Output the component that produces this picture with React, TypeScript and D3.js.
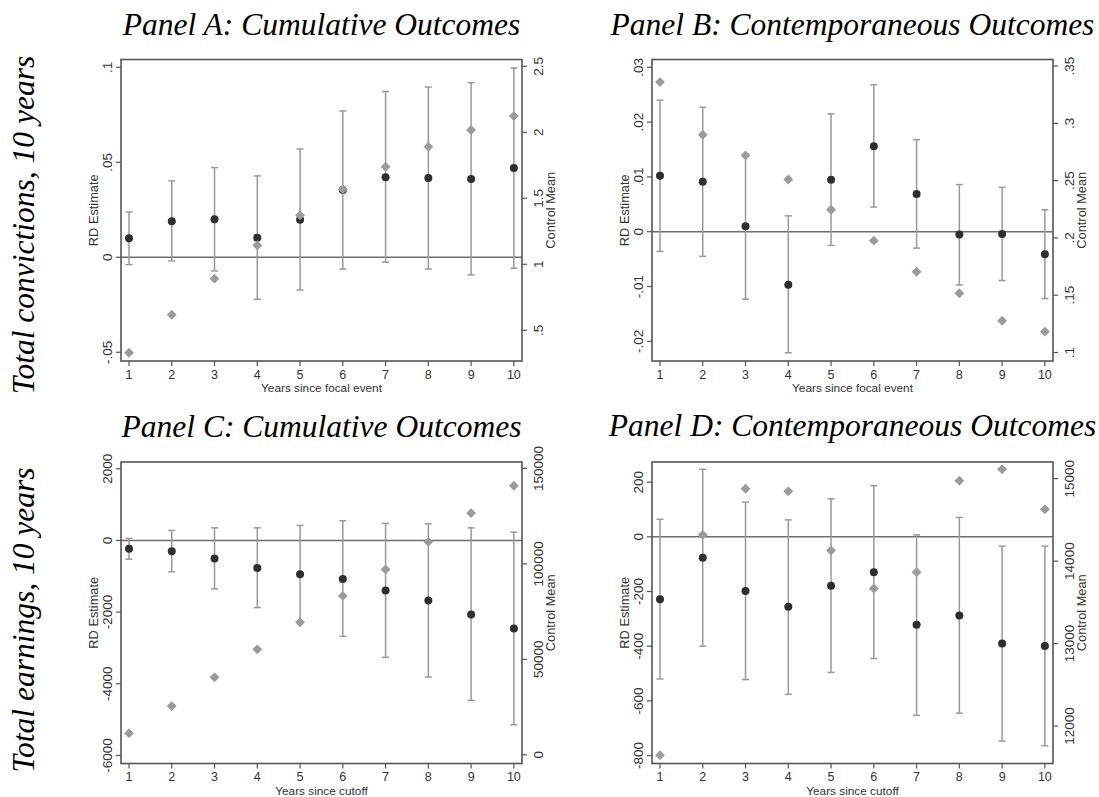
import * as d3 from 'd3';

const years = [1, 2, 3, 4, 5, 6, 7, 8, 9, 10];

// Panel A: cumulative convictions
const aEst = [0.0100, 0.0189, 0.0200, 0.0103, 0.0198, 0.0354, 0.0421, 0.0417, 0.0412, 0.0470];
const aLo = [-0.0039, -0.0019, -0.0072, -0.0221, -0.0172, -0.0062, -0.0026, -0.0062, -0.0093, -0.0058];
const aHi = [0.0238, 0.0402, 0.0472, 0.0428, 0.0570, 0.0770, 0.0872, 0.0896, 0.0919, 0.0996];
const aMean = [0.33, 0.618, 0.891, 1.144, 1.371, 1.568, 1.739, 1.891, 2.017, 2.123];
const aLeftTicks = [-0.05, 0, 0.05, 0.1];
const aLeftLabels = ['-.05', '0', '.05', '.1'];
const aRightTicks = [0.5, 1, 1.5, 2, 2.5];
const aRightLabels = ['.5', '1', '1.5', '2', '2.5'];

// Panel B: contemporaneous convictions
const bEst = [0.0102, 0.0091, 0.0010, -0.0097, 0.0095, 0.0156, 0.0069, -0.0005, -0.0004, -0.0041];
const bLo = [-0.0036, -0.0045, -0.0123, -0.0221, -0.0025, 0.0045, -0.0030, -0.0097, -0.0089, -0.0122];
const bHi = [0.0240, 0.0227, 0.0141, 0.0029, 0.0215, 0.0268, 0.0168, 0.0086, 0.0081, 0.0040];
const bMean = [0.336, 0.290, 0.272, 0.251, 0.2246, 0.1976, 0.1705, 0.1517, 0.1277, 0.1182];
const bLeftTicks = [-0.02, -0.01, 0, 0.01, 0.02, 0.03];
const bLeftLabels = ['-.02', '-.01', '0', '.01', '.02', '.03'];
const bRightTicks = [0.1, 0.15, 0.2, 0.25, 0.3, 0.35];
const bRightLabels = ['.1', '.15', '.2', '.25', '.3', '.35'];

// Panel C: cumulative earnings
const cEst = [-235, -299, -503, -766, -942, -1073, -1398, -1677, -2069, -2460];
const cLo = [-523, -877, -1353, -1873, -2275, -2675, -3262, -3813, -4464, -5143];
const cHi = [56, 280, 352, 352, 419, 548, 475, 464, 352, 232];
const cMean = [11333, 25500, 40556, 55246, 69412, 83210, 97062, 111542, 126600, 140926];
const cLeftTicks = [-6000, -4000, -2000, 0, 2000];
const cLeftLabels = ['-6000', '-4000', '-2000', '0', '2000'];
const cRightTicks = [0, 50000, 100000, 150000];
const cRightLabels = ['0', '50000', '100000', '150000'];

// Panel D: contemporaneous earnings
const dEst = [-228, -77, -198, -256, -179, -130, -322, -288, -390, -399];
const dLo = [-520, -400, -522, -576, -496, -445, -653, -645, -747, -764];
const dHi = [64, 247, 127, 62, 139, 187, 7, 71, -34, -34];
const dMean = [11647, 14319, 14878, 14846, 14130, 13668, 13866, 14975, 15114, 14628];
const dLeftTicks = [-800, -600, -400, -200, 0, 200];
const dLeftLabels = ['-800', '-600', '-400', '-200', '0', '200'];
const dRightTicks = [12000, 13000, 14000, 15000];
const dRightLabels = ['12000', '13000', '14000', '15000'];

const W = 1099;
const H = 797;
const sans = '"Liberation Sans", Arial, sans-serif';
const serif = '"Liberation Serif", "Times New Roman", serif';

type PanelProps = {
  title: string;
  xTitle: string;
  left: number;
  top: number;
  est: number[];
  lo: number[];
  hi: number[];
  mean: number[];
  leftDomain: [number, number];
  rightDomain: [number, number];
  leftTicks: number[];
  leftLabels: string[];
  rightTicks: number[];
  rightLabels: string[];
  titleY: number;
};

const pw = 401;
const ph = 301.5;

function Panel(p: PanelProps) {
  const x = d3.scaleLinear().domain([0.813, 10.19]).range([p.left, p.left + pw]);
  const yL = d3.scaleLinear().domain(p.leftDomain).range([p.top + ph, p.top]);
  const yR = d3.scaleLinear().domain(p.rightDomain).range([p.top + ph, p.top]);
  const bottom = p.top + ph;
  const right = p.left + pw;
  const diamond = d3.symbol().type(d3.symbolDiamond2).size(62)();
  const frame = '#555';
  const tickCol = '#333';

  return (
    <g>
      <text x={p.left + pw / 2} y={p.titleY} textAnchor="middle" fontFamily={serif}
        fontStyle="italic" fontSize={31.5} fill="#000">{p.title}</text>

      {/* zero line */}
      <line x1={p.left} x2={right} y1={yL(0)} y2={yL(0)} stroke="#6e6e6e" strokeWidth={1.6} />

      {/* confidence intervals */}
      {years.map((yr, i) => (
        <g key={'ci' + yr} stroke="#9a9a9a" strokeWidth={1.5}>
          <line x1={x(yr)} x2={x(yr)} y1={yL(p.lo[i])} y2={yL(p.hi[i])} />
          <line x1={x(yr) - 3.5} x2={x(yr) + 3.5} y1={yL(p.lo[i])} y2={yL(p.lo[i])} />
          <line x1={x(yr) - 3.5} x2={x(yr) + 3.5} y1={yL(p.hi[i])} y2={yL(p.hi[i])} />
        </g>
      ))}

      {years.map((yr, i) => (
        <circle key={'e' + yr} cx={x(yr)} cy={yL(p.est[i])} r={4} fill="#2e2e2e" />
      ))}

      {years.map((yr, i) => (
        <path key={'m' + yr} d={diamond || ''} transform={`translate(${x(yr)},${yR(p.mean[i])})`}
          fill="#9b9b9b" />
      ))}

      {/* frame */}
      <rect x={p.left} y={p.top} width={pw} height={ph} fill="none" stroke={frame} strokeWidth={1.6} />

      {/* x axis */}
      {years.map((yr) => (
        <g key={'xt' + yr}>
          <line x1={x(yr)} x2={x(yr)} y1={bottom} y2={bottom + 5} stroke={frame} strokeWidth={1.2} />
          <text x={x(yr)} y={bottom + 17.5} textAnchor="middle" fontFamily={sans} fontSize={12.5}
            fill={tickCol}>{yr}</text>
        </g>
      ))}
      <text x={p.left + pw / 2} y={bottom + 31} textAnchor="middle" fontFamily={sans}
        fontSize={11.8} fill={tickCol}>{p.xTitle}</text>

      {/* left axis */}
      {p.leftTicks.map((t, i) => (
        <g key={'lt' + t}>
          <line x1={p.left - 5} x2={p.left} y1={yL(t)} y2={yL(t)} stroke={frame} strokeWidth={1.2} />
          <text transform={`translate(${p.left - 9.5},${yL(t)}) rotate(-90)`} textAnchor="middle"
            fontFamily={sans} fontSize={13.5} fill={tickCol}>{p.leftLabels[i]}</text>
        </g>
      ))}
      <text transform={`translate(${p.left - 23},${p.top + ph / 2}) rotate(-90)`} textAnchor="middle"
        fontFamily={sans} fontSize={12.8} fill={tickCol}>RD Estimate</text>

      {/* right axis */}
      {p.rightTicks.map((t, i) => (
        <g key={'rt' + t}>
          <line x1={right} x2={right + 5} y1={yR(t)} y2={yR(t)} stroke={frame} strokeWidth={1.2} />
          <text transform={`translate(${right + 21},${yR(t)}) rotate(-90)`} textAnchor="middle"
            fontFamily={sans} fontSize={13.5} fill={tickCol}>{p.rightLabels[i]}</text>
        </g>
      ))}
      <text transform={`translate(${right + 33},${p.top + ph / 2}) rotate(-90)`} textAnchor="middle"
        fontFamily={sans} fontSize={12.8} fill={tickCol}>Control Mean</text>
    </g>
  );
}

export default function App() {
  return (
    <svg width={W} height={H} style={{ position: 'absolute', left: 0, top: 0, background: '#fff' }}>
      <rect width={W} height={H} fill="#fff" />
      <text transform="translate(34,225) rotate(-90)" textAnchor="middle" fontFamily={serif}
        fontStyle="italic" fontSize={31.5}>Total convictions, 10 years</text>
      <text transform="translate(34,620) rotate(-90)" textAnchor="middle" fontFamily={serif}
        fontStyle="italic" fontSize={31.5}>Total earnings, 10 years</text>

      <Panel title="Panel A: Cumulative Outcomes" xTitle="Years since focal event" left={121} top={59.5}
        titleY={35} est={aEst} lo={aLo} hi={aHi} mean={aMean}
        leftDomain={[-0.0546, 0.1041]} rightDomain={[0.2674, 2.5515]}
        leftTicks={aLeftTicks} leftLabels={aLeftLabels} rightTicks={aRightTicks} rightLabels={aRightLabels} />
      <Panel title="Panel B: Contemporaneous Outcomes" xTitle="Years since focal event" left={652} top={59.5}
        titleY={35} est={bEst} lo={bLo} hi={bHi} mean={bMean}
        leftDomain={[-0.02359, 0.03142]} rightDomain={[0.0926, 0.3557]}
        leftTicks={bLeftTicks} leftLabels={bLeftLabels} rightTicks={bRightTicks} rightLabels={bRightLabels} />
      <Panel title="Panel C: Cumulative Outcomes" xTitle="Years since cutoff" left={121} top={462}
        titleY={437} est={cEst} lo={cLo} hi={cHi} mean={cMean}
        leftDomain={[-6225, 2189]} rightDomain={[-4565, 153357]}
        leftTicks={cLeftTicks} leftLabels={cLeftLabels} rightTicks={cRightTicks} rightLabels={cRightLabels} />
      <Panel title="Panel D: Contemporaneous Outcomes" xTitle="Years since cutoff" left={652} top={462}
        titleY={436} est={dEst} lo={dLo} hi={dHi} mean={dMean}
        leftDomain={[-829, 273.6]} rightDomain={[11546, 15202]}
        leftTicks={dLeftTicks} leftLabels={dLeftLabels} rightTicks={dRightTicks} rightLabels={dRightLabels} />
    </svg>
  );
}
